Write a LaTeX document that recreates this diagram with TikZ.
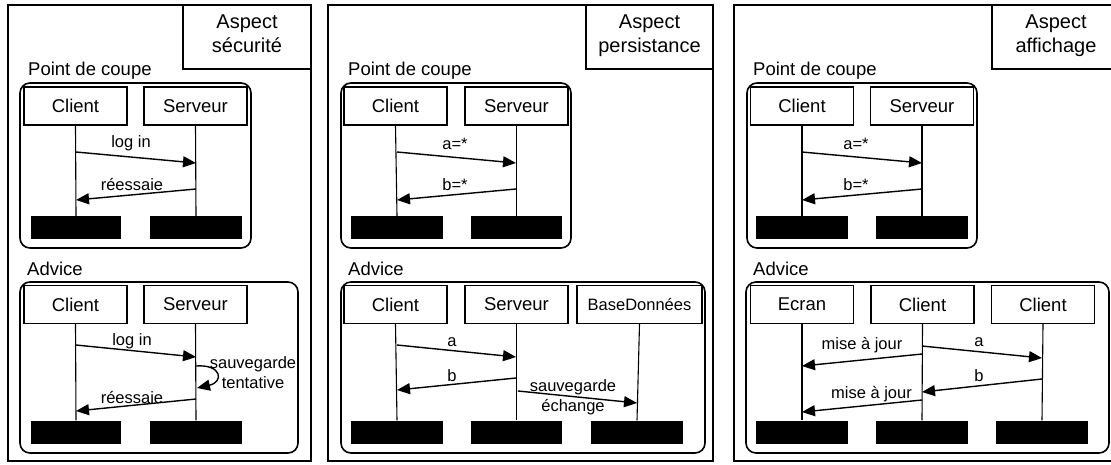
\documentclass[tikz,border=0pt]{standalone}
\usepackage{fontspec}
\setmainfont{Liberation Sans}
\usetikzlibrary{arrows.meta}
\begin{document}
\begin{tikzpicture}[x=1pt,y=-1pt,
  frame/.style={draw, line width=1.3pt},
  aspecttxt/.style={align=center, inner sep=0pt, anchor=north, font=\fontsize{20}{24}\selectfont},
  grp/.style={draw, rounded corners=10pt, line width=1.6pt},
  grplbl/.style={anchor=west, inner sep=0pt, font=\fontsize{18.5}{22}\selectfont},
  actor/.style={draw, line width=1.3pt, font=\fontsize{18.5}{22}\selectfont, minimum width=103pt, minimum height=38pt, inner sep=0pt},
  smallactor/.style={actor, font=\fontsize{16.5}{20}\selectfont},
  bar/.style={fill=black, draw=none, minimum width=91pt, minimum height=23pt, inner sep=0pt},
  life/.style={line width=1.1pt},
  msg/.style={line width=1.4pt, -{Triangle[length=13pt,width=11pt]}},
  lbl/.style={inner sep=0pt, align=center, font=\fontsize{16.5}{19.5}\selectfont}
]
\useasboundingbox (0,0) rectangle (1111,464);
\fill[white] (0,0) rectangle (1111,464);

% ================= Panel 1 =================
\draw[frame] (8,5) rectangle (311,461);
\draw[frame] (183,5) rectangle (311,69);
\node[aspecttxt] (t1) at (247,15) {Aspect\\sécurité};
\node[grplbl] (pc1) at (28,71) {Point de coupe};
\draw[grp] (20,83) rectangle (251,248);
\node[actor] (c1) at (75.5,106) {Client};
\node[actor] (s1) at (195.5,106) {Serveur};
\node[bar, minimum width=90pt] (c1b) at (76,227.5) {};
\node[bar, minimum width=92pt] (s1b) at (196,227.5) {};
\draw[life] (c1.south) -- (c1b.north);
\draw[life] (s1.south) -- (s1b.north);
\coordinate (m1a) at (76,152); \coordinate (m1b) at (196,163);
\coordinate (m1c) at (196,189); \coordinate (m1d) at (76,200);
\draw[msg] (m1a) -- (m1b);
\draw[msg] (m1c) -- (m1d);
\node[lbl] (l1a) at (131,143.5) {log in};
\node[lbl] (l1b) at (132,185) {réessaie};

\node[grplbl] (ad1) at (27,269) {Advice};
\draw[grp] (20,282) rectangle (298,453);
\node[actor] (c1x) at (75.5,304.5) {Client};
\node[actor] (s1x) at (195.5,304.5) {Serveur};
\node[bar, minimum width=90pt] (c1xb) at (76,432) {};
\node[bar, minimum width=92pt] (s1xb) at (196,432) {};
\draw[life] (c1x.south) -- (c1xb.north);
\draw[life] (s1x.south) -- (s1xb.north);
\coordinate (n1a) at (76,345); \coordinate (n1b) at (196,357);
\coordinate (n1c) at (196,366); \coordinate (n1d) at (197,388);
\coordinate (n1e) at (196,399); \coordinate (n1f) at (76,411);
\draw[msg] (n1a) -- (n1b);
\draw[msg] (n1c) .. controls (222,364) and (224,382) .. (n1d);
\draw[msg] (n1e) -- (n1f);
\node[lbl] (k1a) at (132,341) {log in};
\node[lbl] (k1b) at (253,372.5) {sauvegarde\\tentative};
\node[lbl] (k1c) at (132,397.5) {réessaie};

% ================= Panel 2 =================
\draw[frame] (328,5) rectangle (713,461);
\draw[frame] (586,5) rectangle (713,69);
\node[aspecttxt] (t2) at (649.5,15) {Aspect\\persistance};
\node[grplbl] (pc2) at (348,71) {Point de coupe};
\draw[grp] (341,83) rectangle (571,248);
\node[actor] (c2) at (395.5,106) {Client};
\node[actor] (s2) at (516.5,106) {Serveur};
\node[bar, minimum width=92pt] (c2b) at (397,227.5) {};
\node[bar] (s2b) at (516.5,227.5) {};
\draw[life] (c2.south) -- (c2b.north);
\draw[life] (s2.south) -- (s2b.north);
\coordinate (m2a) at (397,152); \coordinate (m2b) at (516,163);
\coordinate (m2c) at (516,189); \coordinate (m2d) at (397,200);
\draw[msg] (m2a) -- (m2b);
\draw[msg] (m2c) -- (m2d);
\node[lbl] (l2a) at (455,144) {a=*};
\node[lbl] (l2b) at (455,185) {b=*};

\node[grplbl] (ad2) at (348,269) {Advice};
\draw[grp] (341,282) rectangle (705,453);
\node[actor] (c2x) at (395.5,304.5) {Client};
\node[actor] (s2x) at (516.5,304.5) {Serveur};
\node[smallactor, minimum width=125pt] (db2) at (639.5,304.5) {BaseDonnées};
\node[bar, minimum width=92pt] (c2xb) at (397,432) {};
\node[bar] (s2xb) at (516.5,432) {};
\node[bar, minimum width=92pt] (db2b) at (637,432) {};
\draw[life] (c2x.south) -- (c2xb.north);
\draw[life] (s2x.south) -- (s2xb.north);
\draw[life] (db2.south) -- (db2b.north);
\coordinate (n2a) at (397,345); \coordinate (n2b) at (516,357);
\coordinate (n2c) at (516,378); \coordinate (n2d) at (397,390);
\coordinate (n2e) at (518,391); \coordinate (n2f) at (637,403);
\draw[msg] (n2a) -- (n2b);
\draw[msg] (n2c) -- (n2d);
\draw[msg] (n2e) -- (n2f);
\node[lbl] (k2a) at (452,342) {a};
\node[lbl] (k2b) at (452,376) {b};
\node[lbl, font=\fontsize{16.5}{20}\selectfont] (k2c) at (573,397) {sauvegarde\\échange};

% ================= Panel 3 =================
\draw[frame] (734,5) rectangle (1116,461);
\draw[frame] (992,5) rectangle (1116,69);
\node[aspecttxt] (t3) at (1056,15) {Aspect\\affichage};
\node[grplbl] (pc3) at (753,71) {Point de coupe};
\draw[grp] (747,83) rectangle (977,248);
\node[actor] (c3) at (802,106) {Client};
\node[actor] (s3) at (922,106) {Serveur};
\node[bar, minimum width=92pt] (c3b) at (802,227.5) {};
\node[bar, minimum width=92pt] (s3b) at (922,227.5) {};
\draw[life] (c3.south) -- (c3b.north);
\draw[life] (s3.south) -- (s3b.north);
\coordinate (m3a) at (802,152); \coordinate (m3b) at (922,163);
\coordinate (m3c) at (922,189); \coordinate (m3d) at (802,200);
\draw[msg] (m3a) -- (m3b);
\draw[msg] (m3c) -- (m3d);
\node[lbl] (l3a) at (856,144) {a=*};
\node[lbl] (l3b) at (856,185) {b=*};

\node[grplbl] (ad3) at (753,269) {Advice};
\draw[grp] (746,282) rectangle (1109,453);
\node[actor] (e3x) at (802,304.5) {Ecran};
\node[actor] (c3x) at (922.5,304.5) {Client};
\node[actor] (d3x) at (1043,304.5) {Client};
\node[bar, minimum width=92pt] (e3xb) at (802,432) {};
\node[bar, minimum width=92pt] (c3xb) at (922,432) {};
\node[bar, minimum width=92pt] (d3xb) at (1042,432) {};
\draw[life] (e3x.south) -- (e3xb.north);
\draw[life] (c3x.south) -- (c3xb.north);
\draw[life] (d3x.south) -- (d3xb.north);
\coordinate (n3a) at (922,346); \coordinate (n3b) at (1042,358);
\coordinate (n3c) at (922,354); \coordinate (n3d) at (802,366);
\coordinate (n3e) at (1042,379); \coordinate (n3f) at (922,392);
\coordinate (n3g) at (922,400); \coordinate (n3h) at (802,412);
\draw[msg] (n3a) -- (n3b);
\draw[msg] (n3c) -- (n3d);
\draw[msg] (n3e) -- (n3f);
\draw[msg] (n3g) -- (n3h);
\node[lbl] (k3a) at (979,342) {a};
\node[lbl] (k3b) at (862,345) {mise à jour};
\node[lbl] (k3c) at (979,376) {b};
\node[lbl] (k3d) at (871.5,394) {mise à jour};
\end{tikzpicture}
\end{document}
